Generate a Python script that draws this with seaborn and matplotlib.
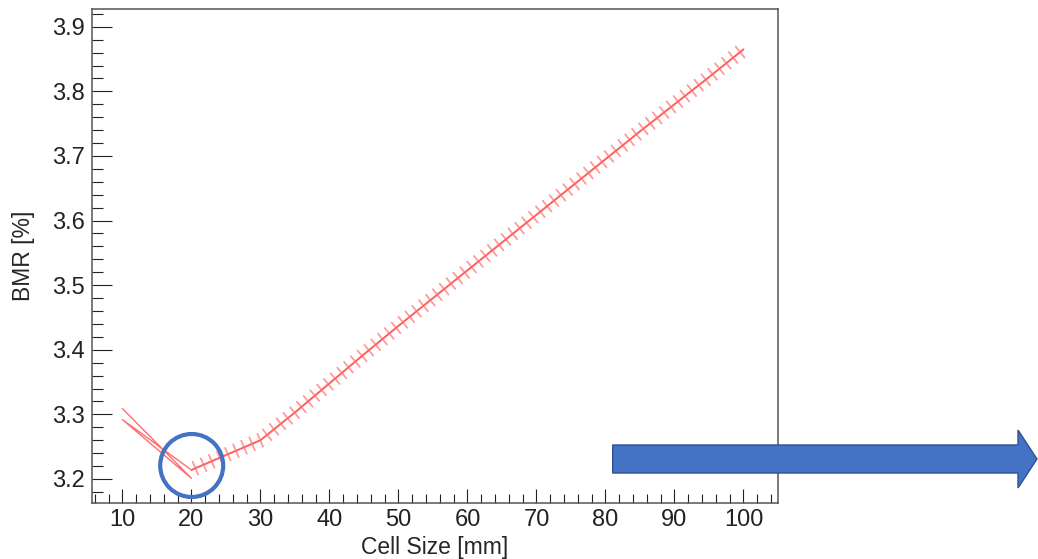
import numpy as np
import pandas as pd
import matplotlib
matplotlib.use("Agg")
import matplotlib.pyplot as plt
import matplotlib.patheffects as pe
import matplotlib.transforms as mtransforms
from matplotlib.patches import Polygon, Ellipse
from matplotlib.ticker import MultipleLocator
import seaborn as sns

# ---- data ----
cell_size_main = [20, 25, 30, 35, 40, 45, 50, 55, 60, 65, 70, 75, 80, 85, 90, 95, 100]
bmr_main = [3.214, 3.237, 3.260, 3.303, 3.348, 3.393, 3.437, 3.480, 3.523, 3.566,
            3.609, 3.652, 3.695, 3.738, 3.780, 3.822, 3.865]
# thin outline drawn between 10 and 20 mm (no hatching)
cell_size_edge = [10, 20, 10, 20]
bmr_edge = [3.309, 3.201, 3.292, 3.214]
x_ticks = [10, 20, 30, 40, 50, 60, 70, 80, 90, 100]
y_ticks = [3.2, 3.3, 3.4, 3.5, 3.6, 3.7, 3.8, 3.9]

sns.set_style("white")
plt.rcParams['font.family'] = ['Liberation Sans', 'DejaVu Sans']

W, H = 1038, 559
fig = plt.figure(figsize=(W / 100, H / 100), dpi=100)
ax = fig.add_axes([91.7 / W, 1 - 502.7 / H, (778 - 91.7) / W, (502.7 - 9.3) / H])

line_red = "#ff5a5a"
hatch_pink = "#ff9a9a"
df_main = pd.DataFrame({"x": cell_size_main, "y": bmr_main})
df_edge = pd.DataFrame({"x": cell_size_edge, "y": bmr_edge})

sns.lineplot(data=df_edge, x="x", y="y", sort=False, ax=ax, color="#ff6e6e",
             linewidth=1.0, estimator=None)
# hatching (ticks only)
sns.lineplot(data=df_main, x="x", y="y", sort=False, ax=ax, color=hatch_pink,
             linewidth=1.3, estimator=None)
ax.lines[-1].set_path_effects([
    pe.withTickedStroke(spacing=6.3, angle=90, length=0.8),
    pe.withTickedStroke(spacing=6.3, angle=-90, length=0.8),
])
# central line
sns.lineplot(data=df_main, x="x", y="y", sort=False, ax=ax, color=line_red,
             linewidth=1.0, estimator=None)

ax.set_xlim(5.55, 105.0)
ax.set_ylim(3.1633, 3.927)
ax.set_xticks(x_ticks)
ax.set_yticks(y_ticks)
ax.set_xticklabels([str(v) for v in x_ticks])
ax.set_yticklabels([f"{v:.1f}" for v in y_ticks])
ax.xaxis.set_minor_locator(MultipleLocator(2))
ax.yaxis.set_minor_locator(MultipleLocator(0.02))

ax.tick_params(axis="both", which="both", direction="in", colors="#222222",
               width=0.8, labelsize=17, pad=4.8,
               bottom=True, left=True, top=False, right=False)
ax.tick_params(axis="x", which="major", length=10.3)
ax.tick_params(axis="x", which="minor", length=6.7)
ax.tick_params(axis="y", which="major", length=14.4)
ax.tick_params(axis="y", which="minor", length=7.7)

for s in ax.spines.values():
    s.set_visible(True)
    s.set_color("#555555")
    s.set_linewidth(1.1)

ax.set_xlabel("Cell Size [mm]", fontsize=16.5, labelpad=3)
ax.set_ylabel("BMR [%]", fontsize=16.5, labelpad=12)

# blue annotation circle (figure pixel coordinates)
ident = mtransforms.IdentityTransform()
circ = Ellipse((191.7, H - 465.5), width=63, height=63, transform=ident,
               fill=False, edgecolor="#4472C4", linewidth=3.0, zorder=10)
fig.add_artist(circ)

# blue arrow (figure pixel coordinates)
arrow_pts = [(612.7, H - 445), (1018, H - 445), (1018, H - 430), (1037, H - 459),
             (1018, H - 488), (1018, H - 473), (612.7, H - 473)]
arrow = Polygon(arrow_pts, closed=True, transform=ident, facecolor="#4472C4",
                edgecolor="#2F528F", linewidth=1.0, zorder=10)
fig.add_artist(arrow)

fig.savefig("out.png", dpi=100)
